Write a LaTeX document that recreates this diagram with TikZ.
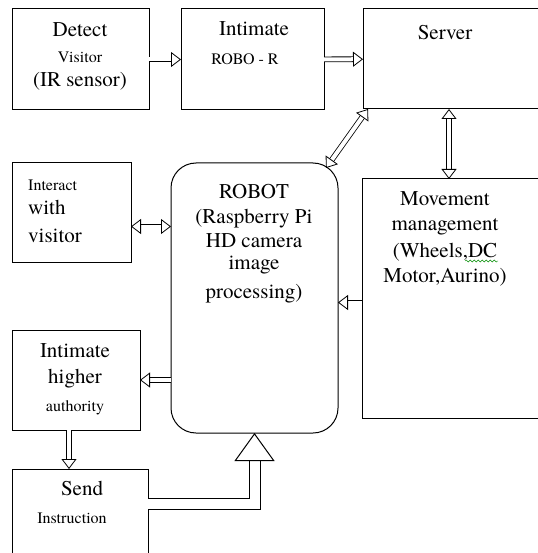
\documentclass[tikz,border=0pt]{standalone}
\usepackage{fontspec}
\setmainfont{TeX Gyre Termes}
\usetikzlibrary{arrows.meta,decorations.pathmorphing}
\tikzset{ %
  ,box/.style={draw, line width=1pt, inner sep=0, outer sep=0, anchor=north west}
  ,robotbox/.style={box, rounded corners=25pt}
  ,txt/.style={anchor=base, inner sep=0, font=\fontsize{21}{25}\selectfont}
  ,small/.style={anchor=base, inner sep=0, font=\fontsize{16}{19}\selectfont}
  ,dbl/.style={double, double distance=4pt, line width=0.8pt, -{Triangle[open, length=10pt, width=15pt, line width=0.8pt]}}
  ,dblboth/.style={double, double distance=4pt, line width=0.8pt, {Triangle[open, length=10pt, width=15pt, line width=0.8pt]}-{Triangle[open, length=10pt, width=15pt, line width=0.8pt]}}
  ,bigarrow/.style={double, double distance=10pt, line width=1pt, -{Triangle[open, length=28pt, width=40pt, line width=1pt]}}
}
\begin{document}
\begin{tikzpicture}[x=1pt, y=-1pt]
  \useasboundingbox (0,0) rectangle (537,553);
  % boxes
  \node[box, minimum width=137pt, minimum height=101pt] (detect) at (12,9) {};
  \node[box, minimum width=143pt, minimum height=101pt] (intimate) at (181,9) {};
  \node[box, minimum width=180pt, minimum height=100pt] (server) at (363,9) {};
  \node[box, minimum width=119pt, minimum height=99pt] (interact) at (12,163) {};
  \node[robotbox, minimum width=167pt, minimum height=270pt] (robot) at (171,163) {};
  \node[box, minimum width=180pt, minimum height=239pt] (movement) at (362,179) {};
  \node[box, minimum width=128pt, minimum height=100pt] (higher) at (12,330) {};
  \node[box, minimum width=136pt, minimum height=90pt] (send) at (12,469) {};
  % texts
  \node[txt] (detect-t1) at (80,37) {Detect};
  \node[small] (detect-t2) at (80,63) {Visitor};
  \node[txt] (detect-t3) at (80,87) {(IR sensor)};
  \node[txt] (intimate-t1) at (254,36) {Intimate};
  \node[small] (intimate-t2) at (245,65) {ROBO - R};
  \node[txt] (server-t1) at (445,40) {Server};
  \node[small, anchor=base west] (interact-t1) at (28,190) {Interact};
  \node[txt, anchor=base west] (interact-t2) at (28,214) {with};
  \node[txt, anchor=base west] (interact-t3) at (28,242) {visitor};
  \foreach \y/\t [count=\i] in {198/ROBOT, 223/(Raspberry Pi, 247/HD camera, 269/image, 298/processing)}
    \node[txt] (robot-t\i) at (254,\y) {\t};
  \foreach \y/\t [count=\i] in {205/Movement, 230/management, 257/{(Wheels,DC}, 282/{Motor,Aurino)}}
    \node[txt] (movement-t\i) at (445,\y) {\t};
  \node[txt] (higher-t1) at (75,357) {Intimate};
  \node[txt] (higher-t2) at (75,383) {higher};
  \node[small] (higher-t3) at (75,411) {authority};
  \node[txt] (send-t1) at (82,495) {Send};
  \node[small] (send-t2) at (72,523) {Instruction};
  \draw[green!55!black, decorate, decoration={snake, amplitude=1pt, segment length=4pt}] (465,261) -- (498,261);
  % connectors
  \draw[dbl] (detect) -- (intimate);
  \draw[dbl] (intimate) -- (server);
  \draw[dblboth] ([xshift=5pt]server.south west) -- ([xshift=-12pt, yshift=-5pt]robot.north east);
  \draw[dblboth] ([xshift=-4pt]server.south) -- ([xshift=-4pt]server.south |- movement.north);
  \draw[dblboth] ([yshift=-14pt]interact.east) -- ([yshift=-14pt]interact.east -| robot.west);
  \draw[dbl] ([yshift=-4pt]movement.west) -- ([yshift=-4pt]movement.west -| robot.east);
  \draw[dbl] (robot.west |- higher.east) -- (higher.east);
  \draw[dbl] ([xshift=-7pt]higher.south) -- ([xshift=-7pt]higher.south |- send.north);
  \draw[bigarrow] ([yshift=10pt]send.east) -| (robot.south);
\end{tikzpicture}
\end{document}
